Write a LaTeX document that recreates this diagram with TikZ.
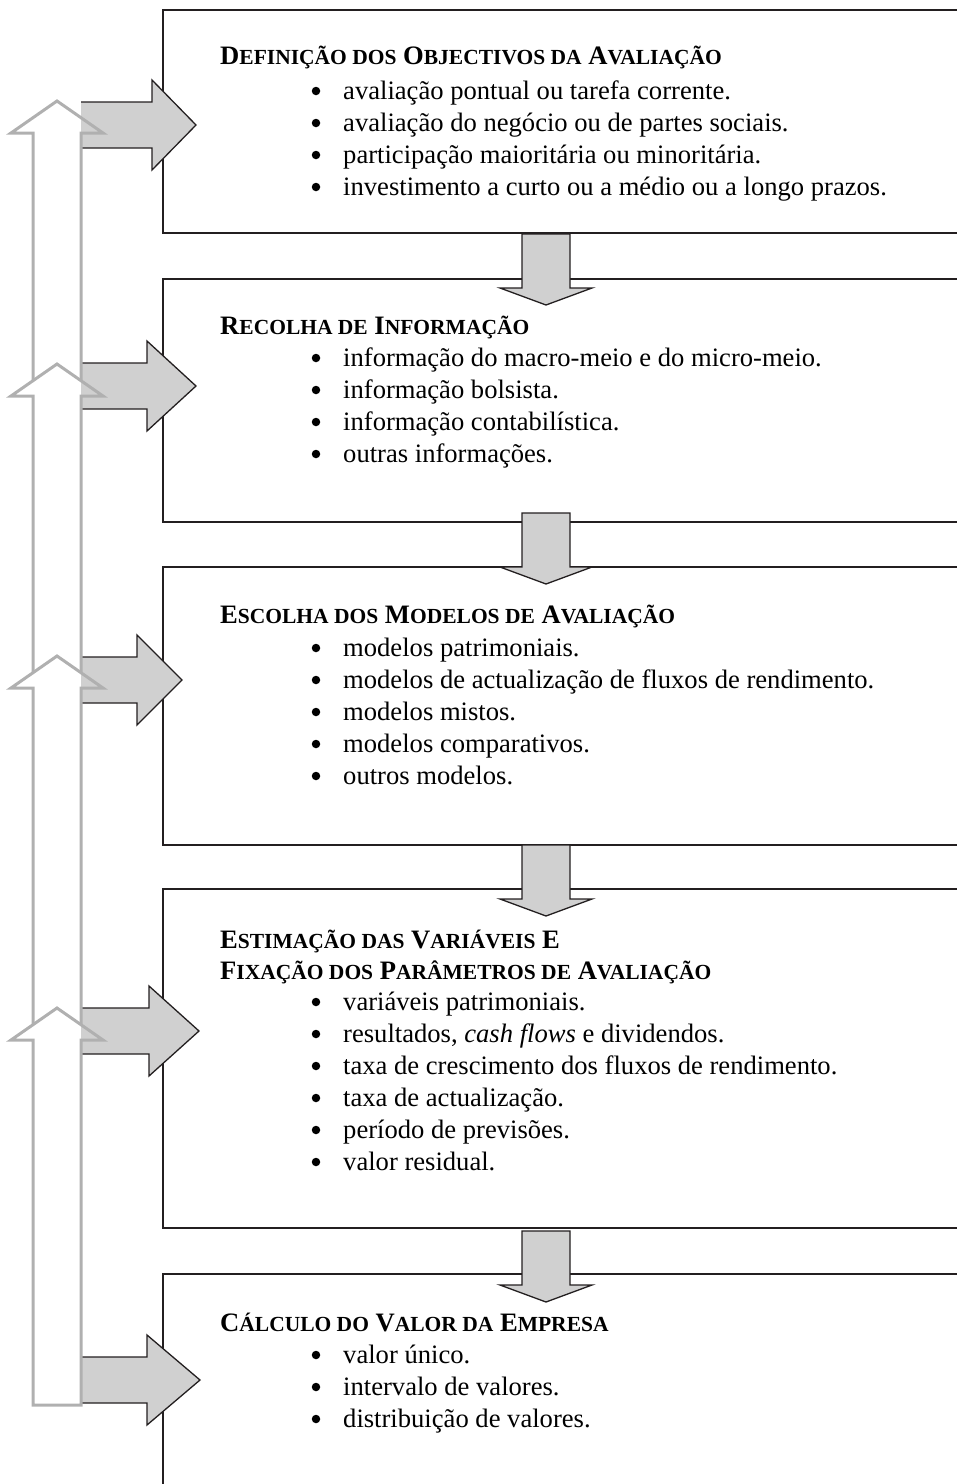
\documentclass[tikz,border=0pt]{standalone}
\usepackage{fontspec}
\setmainfont{Liberation Serif}
\usepackage{tikz}

\definecolor{arrowgray}{RGB}{208,208,208}
\definecolor{linegray}{RGB}{176,176,176}
\definecolor{boxline}{RGB}{35,31,32}

%fake small capitals for the headings
\newcommand{\smc}[1]{{\fontsize{21.5}{26}\selectfont #1}}

\tikzset{
	box/.style={draw=boxline, line width=2pt},
	heading/.style={anchor=base west, inner sep=0pt, font=\bfseries\fontsize{26.6}{32}\selectfont},
	entry/.style={anchor=base west, inner sep=0pt, font=\fontsize{26.6}{32}\selectfont},
	bul/.style={circle, fill=black, inner sep=0pt, minimum size=8.5pt},
	fatarrow/.style={fill=arrowgray, draw=boxline, line width=1.3pt, line join=miter},
	uparrow/.style={draw=linegray, line width=3pt},
}

\begin{document}
\begin{tikzpicture}[x=1pt, y=-1pt]
		%picture frame
		\clip (0,0) rectangle (957,1484);
		
		%boxes, open to the right
		\foreach \ya/\yb in {10/233, 279/522, 567/845, 889/1228, 1274/1500}
			\draw[box] (970,\ya) -- (163,\ya) -- (163,\yb) -- (970,\yb);
		
		%box 1
		\node[heading] (h1) at (220,64) {D\smc{EFINIÇÃO DOS} O\smc{BJECTIVOS DA} A\smc{VALIAÇÃO}};
		\foreach \txt [count=\i] in {avaliação pontual ou tarefa corrente., avaliação do negócio ou de partes sociais., participação maioritária ou minoritária., investimento a curto ou a médio ou a longo prazos.}{
			\node[bul] (b1-\i) at (316,{99+32*(\i-1)-8}) {};
			\node[entry] (t1-\i) at (343,{99+32*(\i-1)}) {\txt};
		}
		
		%box 2
		\node[heading] (h2) at (220,334) {R\smc{ECOLHA DE} I\smc{NFORMAÇÃO}};
		\foreach \txt [count=\i] in {informação do macro-meio e do micro-meio., informação bolsista., informação contabilística., outras informações.}{
			\node[bul] (b2-\i) at (316,{366+32*(\i-1)-8}) {};
			\node[entry] (t2-\i) at (343,{366+32*(\i-1)}) {\txt};
		}
		
		%box 3
		\node[heading] (h3) at (220,623) {E\smc{SCOLHA DOS} M\smc{ODELOS DE} A\smc{VALIAÇÃO}};
		\foreach \txt [count=\i] in {modelos patrimoniais., modelos de actualização de fluxos de rendimento., modelos mistos., modelos comparativos., outros modelos.}{
			\node[bul] (b3-\i) at (316,{656+32*(\i-1)-8}) {};
			\node[entry] (t3-\i) at (343,{656+32*(\i-1)}) {\txt};
		}
		
		%box 4
		\node[heading] (h4) at (220,948) {E\smc{STIMAÇÃO DAS} V\smc{ARIÁVEIS} E};
		\node[heading] (h4b) at (220,979) {F\smc{IXAÇÃO DOS} P\smc{ARÂMETROS DE} A\smc{VALIAÇÃO}};
		\foreach \txt [count=\i] in {variáveis patrimoniais., {resultados, \emph{cash flows} e dividendos.}, taxa de crescimento dos fluxos de rendimento., taxa de actualização., período de previsões., valor residual.}{
			\node[bul] (b4-\i) at (316,{1010+32*(\i-1)-8}) {};
			\node[entry] (t4-\i) at (343,{1010+32*(\i-1)}) {\txt};
		}
		
		%box 5
		\node[heading] (h5) at (220,1331) {C\smc{ÁLCULO DO} V\smc{ALOR DA} E\smc{MPRESA}};
		\foreach \txt [count=\i] in {valor único., intervalo de valores., distribuição de valores.}{
			\node[bul] (b5-\i) at (316,{1363+32*(\i-1)-8}) {};
			\node[entry] (t5-\i) at (343,{1363+32*(\i-1)}) {\txt};
		}
		
		%arrows between the boxes
		\foreach \ya in {234, 513, 845, 1231}
			\filldraw[fatarrow] (522,\ya) -- (570,\ya) -- (570,{\ya+54}) -- (592,{\ya+54}) -- (546,{\ya+71}) -- (500,{\ya+54}) -- (522,{\ya+54}) -- cycle;
		
		%arrows into the boxes
		\foreach \cy/\hx/\tx in {125/152/196, 386/147/196, 680/137/182, 1031/149/199, 1380/147/200}
			\filldraw[fatarrow] (81,{\cy-23}) -- (\hx,{\cy-23}) -- (\hx,{\cy-45}) -- (\tx,\cy) -- (\hx,{\cy+45}) -- (\hx,{\cy+23}) -- (81,{\cy+23});
		
		%feedback arrows
		\foreach \t/\nt in {101/364, 364/656, 656/1008}
			\draw[uparrow] (33,{\nt+17}) -- (33,{\t+32}) -- (11,{\t+32}) -- (57,\t) -- (103,{\t+32}) -- (81,{\t+32}) -- (81,{\nt+17});
		\draw[uparrow] (33,1405) -- (33,1040) -- (11,1040) -- (57,1008) -- (103,1040) -- (81,1040) -- (81,1405) -- cycle;

\end{tikzpicture}
\end{document}
